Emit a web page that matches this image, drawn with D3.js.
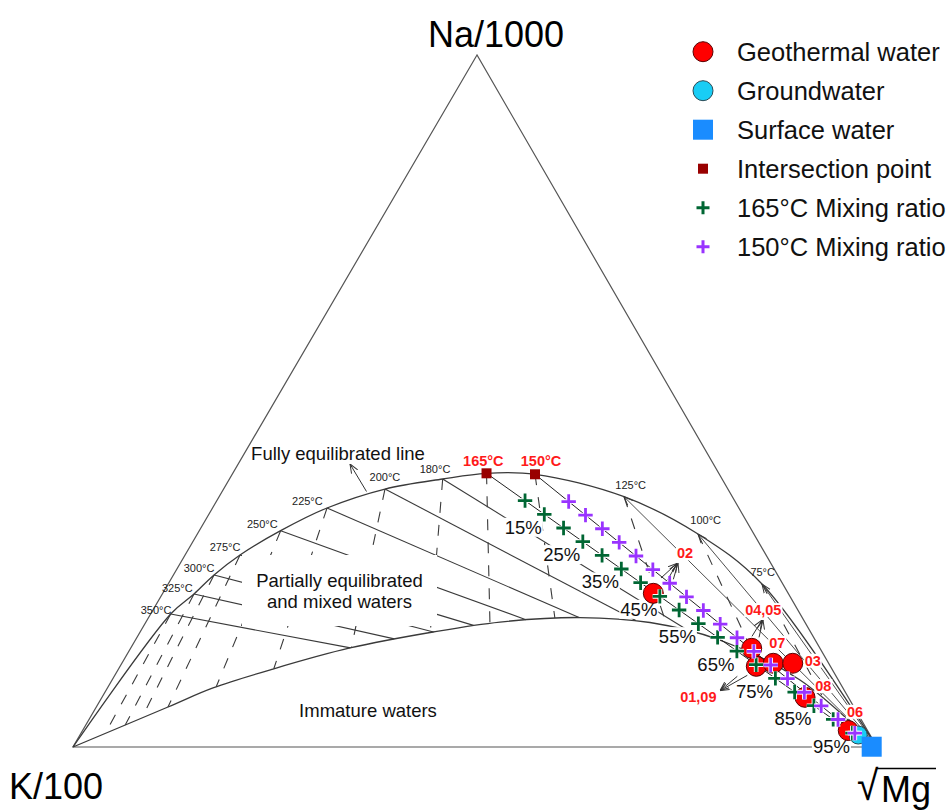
<!DOCTYPE html>
<html>
<head>
<meta charset="utf-8">
<script src="https://cdn.jsdelivr.net/npm/d3@7"></script>
<style>
    body { margin: 0; background: #fff; }
    svg { display: block; font-family: Arial, "Liberation Sans", sans-serif; }
</style>
</head>
<body>
<svg id="mainSvg" width="947" height="811"></svg>
<script>
// * ternary values in percent of (Na/1000 + K/100 + sqrt(Mg))
// * only Na% and Mg% are kept, K% is the rest
let eqTemps = [350, 325, 300, 275, 250, 225, 200, 180, 165, 150, 125, 100, 75]
let eqNa = [19.22, 22.11, 24.86, 27.75, 31.26, 34.54, 37.28, 38.73, 39.55, 39.41, 36.17, 30.78, 23.55]
let eqMg = [2.49, 3.94, 5.05, 6.83, 10.12, 14.24, 20.07, 26.52, 31.56, 37.66, 50.36, 62.27, 73.86]

// lower boundary of the partially equilibrated field, K corner to Mg corner
let immNa = [0, 5.78, 8.53, 11.27, 14.31, 16.62, 18.06, 18.71, 17.99, 15.46, 9.68, 0]
let immMg = [0, 8.91, 13.13, 19.21, 27.26, 36.43, 44.03, 53.66, 62.73, 72.70, 85.56, 100]

let sampleIds = ['02', '04,05', '01,09', '07', '03', '08', '06']
let sampleNa = [22.21, 14.26, 11.66, 12.10, 12.10, 7.18, 2.38]
let sampleMg = [61.02, 77.25, 79.13, 81.02, 83.44, 87.44, 95.23]

let groundNa = [1.73]
let groundMg = [96.80]
let surfaceNa = [0.04]
let surfaceMg = [99.32]

let mixTemps = [165, 150]
let mixRatios = [10, 15, 20, 25, 30, 35, 40, 45, 50, 55, 60, 65, 70, 75, 80, 85, 90, 95]
let ratioLabels = [15, 25, 35, 45, 55, 65, 75, 85, 95]

let legendNames = ['Geothermal water', 'Groundwater', 'Surface water', 'Intersection point',
    '165°C Mixing ratio', '150°C Mixing ratio']

// * layout only (pixel offsets of labels)
let tempLabelLayout = {
    350: ['end', 0.7, 0], 325: ['end', -1.3, -2.4], 300: ['end', 0.4, -3.4], 275: ['end', 0.4, -3.8],
    250: ['end', -3, -2.8], 225: ['end', -4.3, -3.4], 200: ['middle', 0, -8.4], 180: ['middle', -7.7, -6.1],
    165: ['middle', -3.2, -7.6], 150: ['middle', 6, -8.6],
    125: ['middle', 6.7, -7.8], 100: ['middle', 7.7, -10.1], 75: ['middle', 0.7, -8.4]
}
let sampleLabelLayout = {
    '02': [31.7, -40], '04,05': [11.6, -38.3], '01,09': [-58, 30.4], '07': [4, -20.6],
    '03': [20, -2.6], '08': [18.3, -11.3], '06': [6.7, -18.8]
}
// arrows: [dx from point, dy from point, dx from label, dy from label]
let sampleArrows = {
    '02': [[7.7, -15.3, -8, 10], [14, -13, -8, 10], [20, -14, -7, 10]],
    '04,05': [[0.3, -12, -1.3, 10], [7.3, -11, -0.3, 10]],
    '01,09': [[-19, 10, 21.7, -6], [-9, 9, 21.7, -6]]
}

let svg = d3.select('#mainSvg')
let defs = svg.append('defs')

let vT = [477, 55], vL = [73, 747], vR = [877, 747]
let yNa = d3.scaleLinear().domain([0, 100]).range([vL[1], vT[1]])
let xNa = d3.scaleLinear().domain([0, 100]).range([0, vT[0] - vL[0]])
let xMg = d3.scaleLinear().domain([0, 100]).range([0, vR[0] - vL[0]])
let proj = function (na, mg) {
    return [vL[0] + xNa(na) + xMg(mg), yNa(na)]
}

defs.append('marker')
    .attr('id', 'vhead')
    .attr('viewBox', '0 0 10 10')
    .attr('refX', 10).attr('refY', 5)
    .attr('markerWidth', 9).attr('markerHeight', 9)
    .attr('markerUnits', 'userSpaceOnUse')
    .attr('orient', 'auto-start-reverse')
    .append('path')
    .attr('d', 'M0,1 L10,5 L0,9')
    .attr('fill', 'none')
    .attr('stroke', '#333')
    .attr('stroke-width', 1.1)

let curve = d3.line().curve(d3.curveCatmullRom.alpha(0.5))
let ink = '#3a3a3a'

// * triangle
svg.append('path')
    .attr('d', 'M' + vT + 'L' + vL + 'L' + vR + 'Z')
    .attr('fill', 'none')
    .attr('stroke', '#555')
    .attr('stroke-width', 1.2)

let gridG = svg.append('g')
let curveG = svg.append('g')

let eqPts = [proj(0, 0)].concat(eqTemps.map((t, i) => proj(eqNa[i], eqMg[i]))).concat([proj(0, 100)])
let immPts = immNa.map((n, i) => proj(n, immMg[i]))

curveG.append('path')
    .attr('d', curve(eqPts))
    .attr('fill', 'none').attr('stroke', ink).attr('stroke-width', 1.3)
let immPath = curveG.append('path')
    .attr('d', curve(immPts))
    .attr('fill', 'none').attr('stroke', ink).attr('stroke-width', 1.3)

// sample the immature curve for the line ends
let immNode = immPath.node()
let immLen = immNode.getTotalLength()
let immPoly = d3.range(0, 801).map(function (k) {
    let p = immNode.getPointAtLength(immLen * k / 800)
    return [p.x, p.y]
})

let hitPoly = function (p0, p1, poly) {
    let best = null, bestT = Infinity
    let rx = p1[0] - p0[0], ry = p1[1] - p0[1]
    for (let k = 0; k < poly.length - 1; k++) {
        let q0 = poly[k], q1 = poly[k + 1]
        let sx = q1[0] - q0[0], sy = q1[1] - q0[1]
        let den = rx * sy - ry * sx
        if (Math.abs(den) < 1e-9) continue
        let wx = q0[0] - p0[0], wy = q0[1] - p0[1]
        let t = (wx * sy - wy * sx) / den
        let u = (wx * ry - wy * rx) / den
        if (t > 1e-3 && t <= 1 && u >= 0 && u <= 1 && t < bestT) {
            bestT = t
            best = [p0[0] + rx * t, p0[1] + ry * t]
        }
    }
    return best
}

let sw = proj(surfaceNa[0], surfaceMg[0])

eqTemps.forEach(function (t, i) {
    let p = proj(eqNa[i], eqMg[i])
    // constant K/sqrt(Mg): away from the Na corner
    let far = [p[0] + (p[0] - vT[0]) * 2, p[1] + (p[1] - vT[1]) * 2]
    let e = hitPoly(p, far, immPoly)
    if (e) {
        gridG.append('line')
            .attr('x1', p[0]).attr('y1', p[1]).attr('x2', e[0]).attr('y2', e[1])
            .attr('stroke', ink).attr('stroke-width', 1.1)
            .attr('stroke-dasharray', '11,12')
    }
    // constant Na/K: toward the Mg corner
    if (mixTemps.indexOf(t) >= 0) return
    if (t < 150) {
        gridG.append('line')
            .attr('x1', p[0]).attr('y1', p[1]).attr('x2', vR[0]).attr('y2', vR[1])
            .attr('stroke', ink).attr('stroke-width', 0.9)
            .attr('marker-start', 'url(#vhead)')
    } else {
        let s = hitPoly(p, vR, immPoly) || vR
        gridG.append('line')
            .attr('x1', p[0]).attr('y1', p[1]).attr('x2', s[0]).attr('y2', s[1])
            .attr('stroke', ink).attr('stroke-width', 1.1)
    }
})

// * mixing lines, intersection point to surface water
let mixScales = mixTemps.map(function (t) {
    let i = eqTemps.indexOf(t)
    let p = proj(eqNa[i], eqMg[i])
    svg.append('line')
        .attr('x1', p[0]).attr('y1', p[1]).attr('x2', sw[0]).attr('y2', sw[1])
        .attr('stroke', '#222').attr('stroke-width', 1)
    return {
        x: d3.scaleLinear().domain([0, 100]).range([p[0], sw[0]]),
        y: d3.scaleLinear().domain([0, 100]).range([p[1], sw[1]]),
        p: p
    }
})

let addBg = function (sel, px, py) {
    sel.each(function () {
        let b = this.getBBox()
        let node = this
        d3.select(this.parentNode).insert('rect', function () { return node })
            .attr('x', b.x - px).attr('y', b.y - py)
            .attr('width', b.width + 2 * px).attr('height', b.height + 2 * py)
            .attr('fill', '#fff')
    })
}

// * field names
let fieldG = svg.append('g')
fieldG.append('rect')
    .attr('x', 242).attr('y', 555).attr('width', 195).attr('height', 71)
    .attr('fill', '#fff')
fieldG.selectAll('text.field')
    .data([['Partially equilibrated', 339.5, 586.7], ['and mixed waters', 339.5, 607.5],
        ['Immature waters', 368, 716.5]])
    .enter().append('text')
    .attr('x', d => d[1]).attr('y', d => d[2])
    .attr('text-anchor', 'middle')
    .attr('font-size', 18.5)
    .attr('fill', '#111')
    .text(d => d[0])

fieldG.append('text')
    .attr('x', 338).attr('y', 459.5)
    .attr('text-anchor', 'middle')
    .attr('font-size', 18.5)
    .attr('fill', '#111')
    .text('Fully equilibrated line')
fieldG.append('line')
    .attr('x1', 366.5).attr('y1', 491.5).attr('x2', 350).attr('y2', 464)
    .attr('stroke', '#333').attr('stroke-width', 1)
    .attr('marker-end', 'url(#vhead)')

// * temperature labels
let tempG = svg.append('g')
eqTemps.forEach(function (t, i) {
    let p = proj(eqNa[i], eqMg[i])
    let lay = tempLabelLayout[t]
    let red = mixTemps.indexOf(t) >= 0
    tempG.append('text')
        .attr('x', p[0] + lay[1]).attr('y', p[1] + lay[2])
        .attr('text-anchor', lay[0])
        .attr('font-size', red ? 14.5 : 11)
        .attr('font-weight', red ? 'bold' : 'normal')
        .attr('fill', red ? '#ff1a1a' : '#222')
        .text(t + '°C')
})

// * percent labels along the 165°C line
let pctG = svg.append('g')
let pct = pctG.selectAll('text')
    .data(ratioLabels)
    .enter().append('text')
    .attr('x', d => mixScales[0].x(d) - 21)
    .attr('y', d => mixScales[0].y(d) + 13)
    .attr('dy', '0.35em')
    .attr('text-anchor', 'middle')
    .attr('font-size', 18.5)
    .attr('fill', '#111')
    .text(d => d + '%')
addBg(pct, 1, -1)

// * sample labels and arrows
let labG = svg.append('g')
sampleIds.forEach(function (id, i) {
    let p = proj(sampleNa[i], sampleMg[i])
    let off = sampleLabelLayout[id]
    let lx = p[0] + off[0], ly = p[1] + off[1]
    let txt = labG.append('text')
        .attr('x', lx).attr('y', ly)
        .attr('dy', '0.35em')
        .attr('text-anchor', 'middle')
        .attr('font-size', 14.5)
        .attr('font-weight', 'bold')
        .attr('fill', '#ff1a1a')
        .text(id)
    addBg(txt, 1, -1)
    let arr = sampleArrows[id] || []
    arr.forEach(function (a) {
        labG.append('line')
            .attr('x1', p[0] + a[0]).attr('y1', p[1] + a[1])
            .attr('x2', lx + a[2]).attr('y2', ly + a[3])
            .attr('stroke', '#333').attr('stroke-width', 1)
            .attr('marker-end', 'url(#vhead)')
    })
})

// * water samples
let markG = svg.append('g')
markG.selectAll('circle.geo')
    .data(sampleIds)
    .enter().append('circle')
    .attr('class', 'geo')
    .attr('cx', (d, i) => proj(sampleNa[i], sampleMg[i])[0])
    .attr('cy', (d, i) => proj(sampleNa[i], sampleMg[i])[1])
    .attr('r', 10)
    .attr('fill', '#ff0000')
    .attr('stroke', '#5a0000')
    .attr('stroke-width', 1)

markG.selectAll('circle.ground')
    .data(groundNa)
    .enter().append('circle')
    .attr('class', 'ground')
    .attr('cx', (d, i) => proj(d, groundMg[i])[0])
    .attr('cy', (d, i) => proj(d, groundMg[i])[1])
    .attr('r', 9)
    .attr('fill', '#19cdf5')
    .attr('stroke', '#2a4a55')
    .attr('stroke-width', 1)

let crossPath = 'M-7.2,0H7.2M0,-7.2V7.2'
let crossColors = ['#006633', '#9933ff']
mixScales.forEach(function (s, k) {
    let g = markG.append('g')
    let cr = g.selectAll('g')
        .data(mixRatios)
        .enter().append('g')
        .attr('transform', d => 'translate(' + s.x(d) + ',' + s.y(d) + ')')
    cr.append('path').attr('d', crossPath)
        .attr('stroke', '#fff').attr('stroke-width', 4.6)
    cr.append('path').attr('d', crossPath)
        .attr('stroke', crossColors[k]).attr('stroke-width', 2.8)
})

markG.selectAll('rect.surface')
    .data(surfaceNa)
    .enter().append('rect')
    .attr('class', 'surface')
    .attr('x', (d, i) => proj(d, surfaceMg[i])[0] - 10)
    .attr('y', (d, i) => proj(d, surfaceMg[i])[1] - 10)
    .attr('width', 20).attr('height', 20)
    .attr('fill', '#1a8cff')

markG.selectAll('rect.inter')
    .data(mixScales)
    .enter().append('rect')
    .attr('class', 'inter')
    .attr('x', d => d.p[0] - 5).attr('y', d => d.p[1] - 5)
    .attr('width', 10).attr('height', 10)
    .attr('fill', '#990000')

// * corner labels
svg.append('text')
    .attr('x', 496).attr('y', 47)
    .attr('text-anchor', 'middle')
    .attr('font-size', 36)
    .text('Na/1000')
svg.append('text')
    .attr('x', 9).attr('y', 799)
    .attr('font-size', 36)
    .text('K/100')
let mgLabel = svg.append('g')
mgLabel.append('text')
    .attr('transform', 'translate(857,800) scale(1.08,1.17)')
    .attr('font-size', 36)
    .text('√')
mgLabel.append('text')
    .attr('x', 881).attr('y', 802)
    .attr('font-size', 36)
    .text('Mg')
mgLabel.append('line')
    .attr('x1', 877).attr('y1', 768.5).attr('x2', 936).attr('y2', 768.5)
    .attr('stroke', '#000').attr('stroke-width', 1.6)

// * legend
let legend = svg.append('g').attr('transform', 'translate(703, 51.7)')
let rows = legend.selectAll('g')
    .data(legendNames)
    .enter().append('g')
    .attr('transform', (d, i) => 'translate(0,' + (i * 39) + ')')
rows.append('text')
    .attr('x', 34).attr('y', 9)
    .attr('font-size', 25.5)
    .attr('fill', '#111')
    .text(d => d)
rows.filter((d, i) => i === 0).append('circle')
    .attr('r', 10).attr('fill', '#ff0000').attr('stroke', '#5a0000')
rows.filter((d, i) => i === 1).append('circle')
    .attr('r', 10).attr('fill', '#19cdf5').attr('stroke', '#2a4a55')
rows.filter((d, i) => i === 2).append('rect')
    .attr('x', -10).attr('y', -10).attr('width', 20).attr('height', 20).attr('fill', '#1a8cff')
rows.filter((d, i) => i === 3).append('rect')
    .attr('x', -5).attr('y', -5).attr('width', 10).attr('height', 10).attr('fill', '#990000')
rows.filter((d, i) => i >= 4).append('path')
    .attr('d', 'M-6.5,0H6.5M0,-6.5V6.5')
    .attr('stroke', (d, i) => crossColors[i])
    .attr('stroke-width', 3)
</script>
</body>
</html>
